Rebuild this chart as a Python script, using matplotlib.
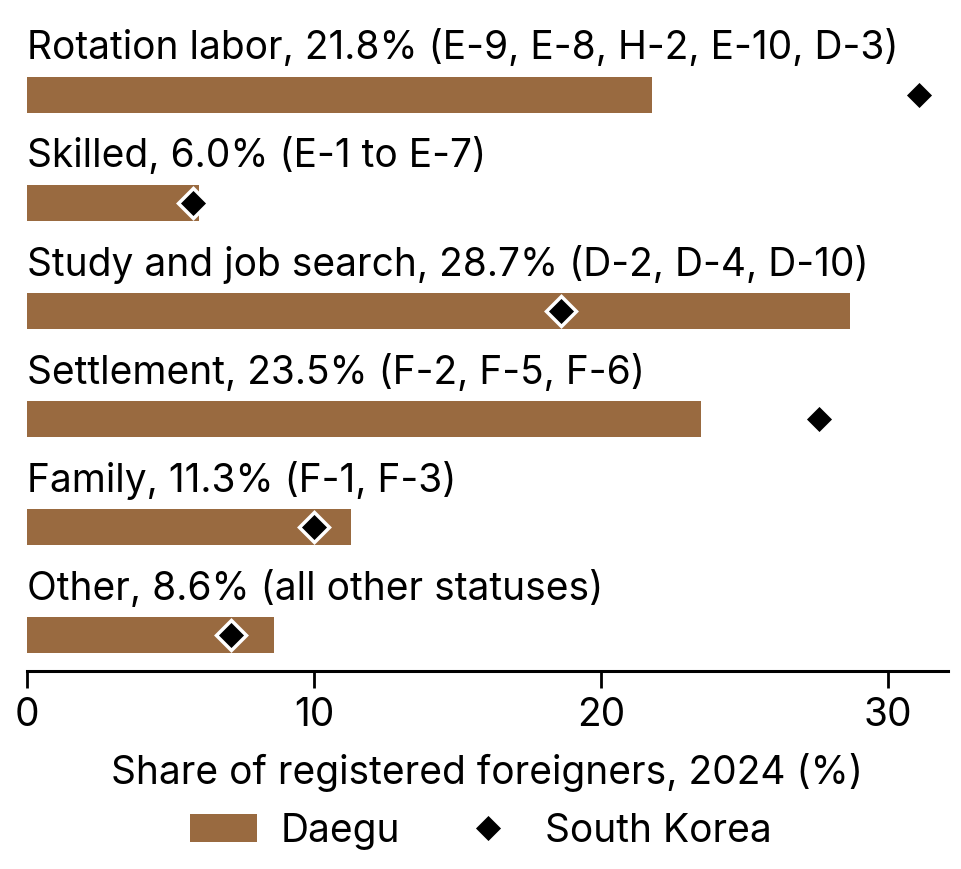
import matplotlib.pyplot as plt
import numpy as np

plt.rcParams['font.family'] = ['Inter', 'DejaVu Sans']

categories = ["Rotation labor", "Skilled", "Study and job search",
              "Settlement", "Family", "Other"]
visa_notes = ["(E-9, E-8, H-2, E-10, D-3)", "(E-1 to E-7)",
              "(D-2, D-4, D-10)", "(F-2, F-5, F-6)", "(F-1, F-3)",
              "(all other statuses)"]
daegu = [21.8, 6.0, 28.7, 23.5, 11.3, 8.6]
south_korea = [31.1, 5.8, 18.6, 27.6, 10.0, 7.1]

bar_color = "#996a40"
fs = 28

fig = plt.figure(figsize=(9.62, 8.7), dpi=100)
ax = fig.add_axes([27/962, 1 - 672/870, 921/962, 672/870])

y = np.arange(len(categories))[::-1]
bars = ax.barh(y, daegu, height=0.33, color=bar_color, label="Daegu")
pts, = ax.plot(south_korea, y, linestyle="none", marker="D", markersize=15,
               markerfacecolor="black", markeredgecolor="white",
               markeredgewidth=2.5, label="South Korea")

for yi, cat, val, note in zip(y, categories, daegu, visa_notes):
    ax.text(0, yi + 0.44, f"{cat}, {val:.1f}% {note}", fontsize=fs,
            va="center", ha="left")

ax.set_xlim(0, 32.1)
ax.set_ylim(-0.333, 5.889)
ax.set_yticks([])
ax.set_xticks([0, 10, 20, 30])
for s in ["top", "right", "left"]:
    ax.spines[s].set_visible(False)
ax.spines["bottom"].set_linewidth(2.2)
ax.tick_params(axis="x", labelsize=fs, length=12, width=2, pad=6)
ax.set_xlabel("Share of registered foreigners, 2024 (%)", fontsize=fs,
              labelpad=14)

fig.legend([bars, pts], ["Daegu", "South Korea"], loc="center",
           bbox_to_anchor=(0.5, 1 - 832/870), ncol=2, frameon=False,
           fontsize=fs, handlelength=1.72, handleheight=0.75,
           handletextpad=0.6, columnspacing=1.4)

fig.savefig("out.png", dpi=100)
